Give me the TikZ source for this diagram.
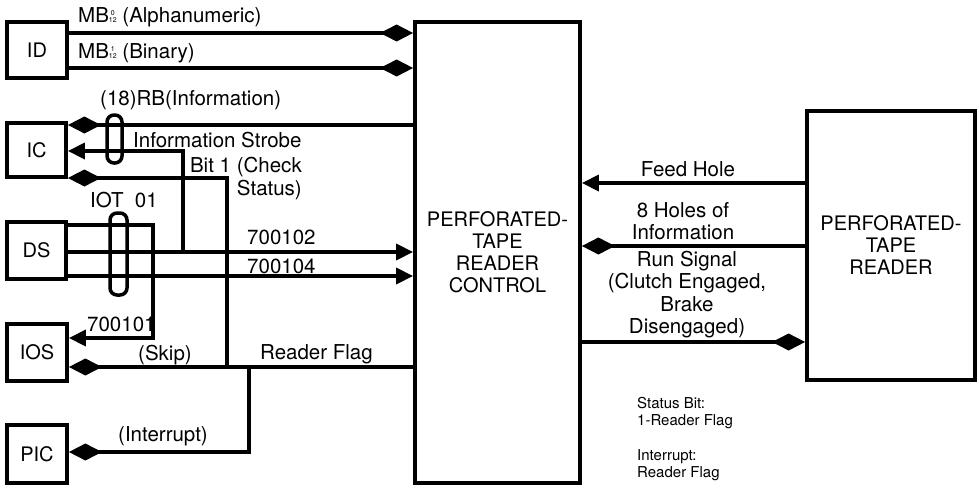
\documentclass[tikz,border=0pt]{standalone}
\usepackage{fontspec}
\setmainfont{TeX Gyre Heros}
\usetikzlibrary{arrows.meta}
\newcommand\mbsupsub[2]{{\fontsize{7}{7.2}\selectfont\begin{tabular}[b]{@{}c@{}}#1\\#2\end{tabular}}}
\begin{document}
\begin{tikzpicture}[x=1pt,y=-1pt,
  box/.style={draw, line width=3.8pt, inner sep=0pt, font=\fontsize{20}{22}\selectfont, align=center},
  wire/.style={line width=3.5pt},
  tri/.style={wire, -{Triangle[length=17pt,width=16pt]}},
  dia/.style={wire, -{Diamond[length=33pt,width=17pt]}},
  lbl/.style={font=\fontsize{20.5}{22.5}\selectfont, inner sep=0pt},
  small/.style={font=\fontsize{15}{17}\selectfont, inner sep=0pt, align=left},
  oval/.style={draw, line width=3.5pt, rounded corners=7pt, inner sep=0pt}
]
\useasboundingbox (0,0) rectangle (979,487);

% boxes
\node[box, minimum width=60pt, minimum height=56pt] (id) at (37,50) {ID};
\node[box, minimum width=59pt, minimum height=54pt] (ic) at (36.5,150) {IC};
\node[box, minimum width=59pt, minimum height=57pt] (ds) at (36.5,250.5) {DS};
\node[box, minimum width=60pt, minimum height=57pt] (ios) at (37,352.5) {IOS};
\node[box, minimum width=60pt, minimum height=58pt] (pic) at (37,454) {PIC};
\node[box, minimum width=165pt, minimum height=461pt] (ctrl) at (497.5,252.5) {PERFORATED-\\TAPE\\READER\\CONTROL};
\node[box, minimum width=168pt, minimum height=269pt] (rdr) at (891,245.5) {PERFORATED-\\TAPE\\READER};

% junction coordinates
\coordinate (js) at (183,252);
\coordinate (jb) at (227,367);
\coordinate (ji) at (249,367);

% ID lines
\draw[dia] (id.east |- 0,33) -- (ctrl.west |- 0,33);
\draw[dia] (id.east |- 0,68) -- (ctrl.west |- 0,68);
% IC lines
\draw[dia] (ctrl.west |- 0,125) -- (ic.east |- 0,125);
\draw[tri] (js) -- (183,151) -- (ic.east |- 0,151);
\draw[dia] (jb) -- (227,178) -- (ic.east |- 0,178);
% DS lines
\draw[tri] (ds.east |- 0,225) -- (153,225) -- (153,338) -- (ios.east |- 0,338);
\draw[tri] (ds.east |- 0,252) -- (ctrl.west |- 0,252);
\draw[tri] (ds.east |- 0,276) -- (ctrl.west |- 0,276);
% reader flag
\draw[dia] (ctrl.west |- 0,367) -- (ios.east |- 0,367);
\draw[dia] (ji) -- (249,452) -- (pic.east |- 0,452);
% right side
\draw[tri] (rdr.west |- 0,183) -- (ctrl.east |- 0,183);
\draw[dia] (rdr.west |- 0,246) -- (ctrl.east |- 0,246);
\draw[dia] (ctrl.east |- 0,342) -- (rdr.west |- 0,342);

% ovals
\node[oval, minimum width=15pt, minimum height=48pt] (o1) at (114.5,139) {};
\node[oval, minimum width=17pt, minimum height=82pt] (o2) at (118.5,254) {};

% labels
\node[lbl, anchor=west] (lmb0) at (78,17) {MB\mbsupsub{0}{12} (Alphanumeric)};
\node[lbl, anchor=west] (lmb1) at (78,53) {MB\mbsupsub{1}{12} (Binary)};
\node[lbl, anchor=west] (lrb) at (100,100) {(18)RB(Information)};
\node[lbl, anchor=west] (lis) at (133,140) {Information Strobe};
\node[lbl, anchor=east] (lb1) at (302,167) {Bit 1 (Check};
\node[lbl, anchor=east] (lst) at (302,190) {Status)};
\node[lbl, anchor=west] (liot) at (90,200) {IOT\ \ 01};
\node[lbl, anchor=west] (l102) at (247,237) {700102};
\node[lbl, anchor=west] (l104) at (247,266) {700104};
\node[lbl, anchor=west] (l101) at (87,324) {700101};
\node[lbl, anchor=west] (lskip) at (138,355) {(Skip)};
\node[lbl, anchor=west] (lrf) at (260,354) {Reader Flag};
\node[lbl, anchor=west] (lint) at (118,436) {(Interrupt)};
\node[lbl] (lfh) at (688,169) {Feed Hole};
\node[lbl, align=center] (l8h) at (683,221) {8 Holes of\\Information};
\node[lbl, align=center] (lrun) at (687,294.5) {Run Signal\\(Clutch Engaged,\\Brake\\Disengaged)};
\node[small, anchor=west] (lsb) at (637,413.5) {Status Bit:\\1-Reader Flag};
\node[small, anchor=west] (lir) at (637,465) {Interrupt:\\Reader Flag};
\end{tikzpicture}
\end{document}
